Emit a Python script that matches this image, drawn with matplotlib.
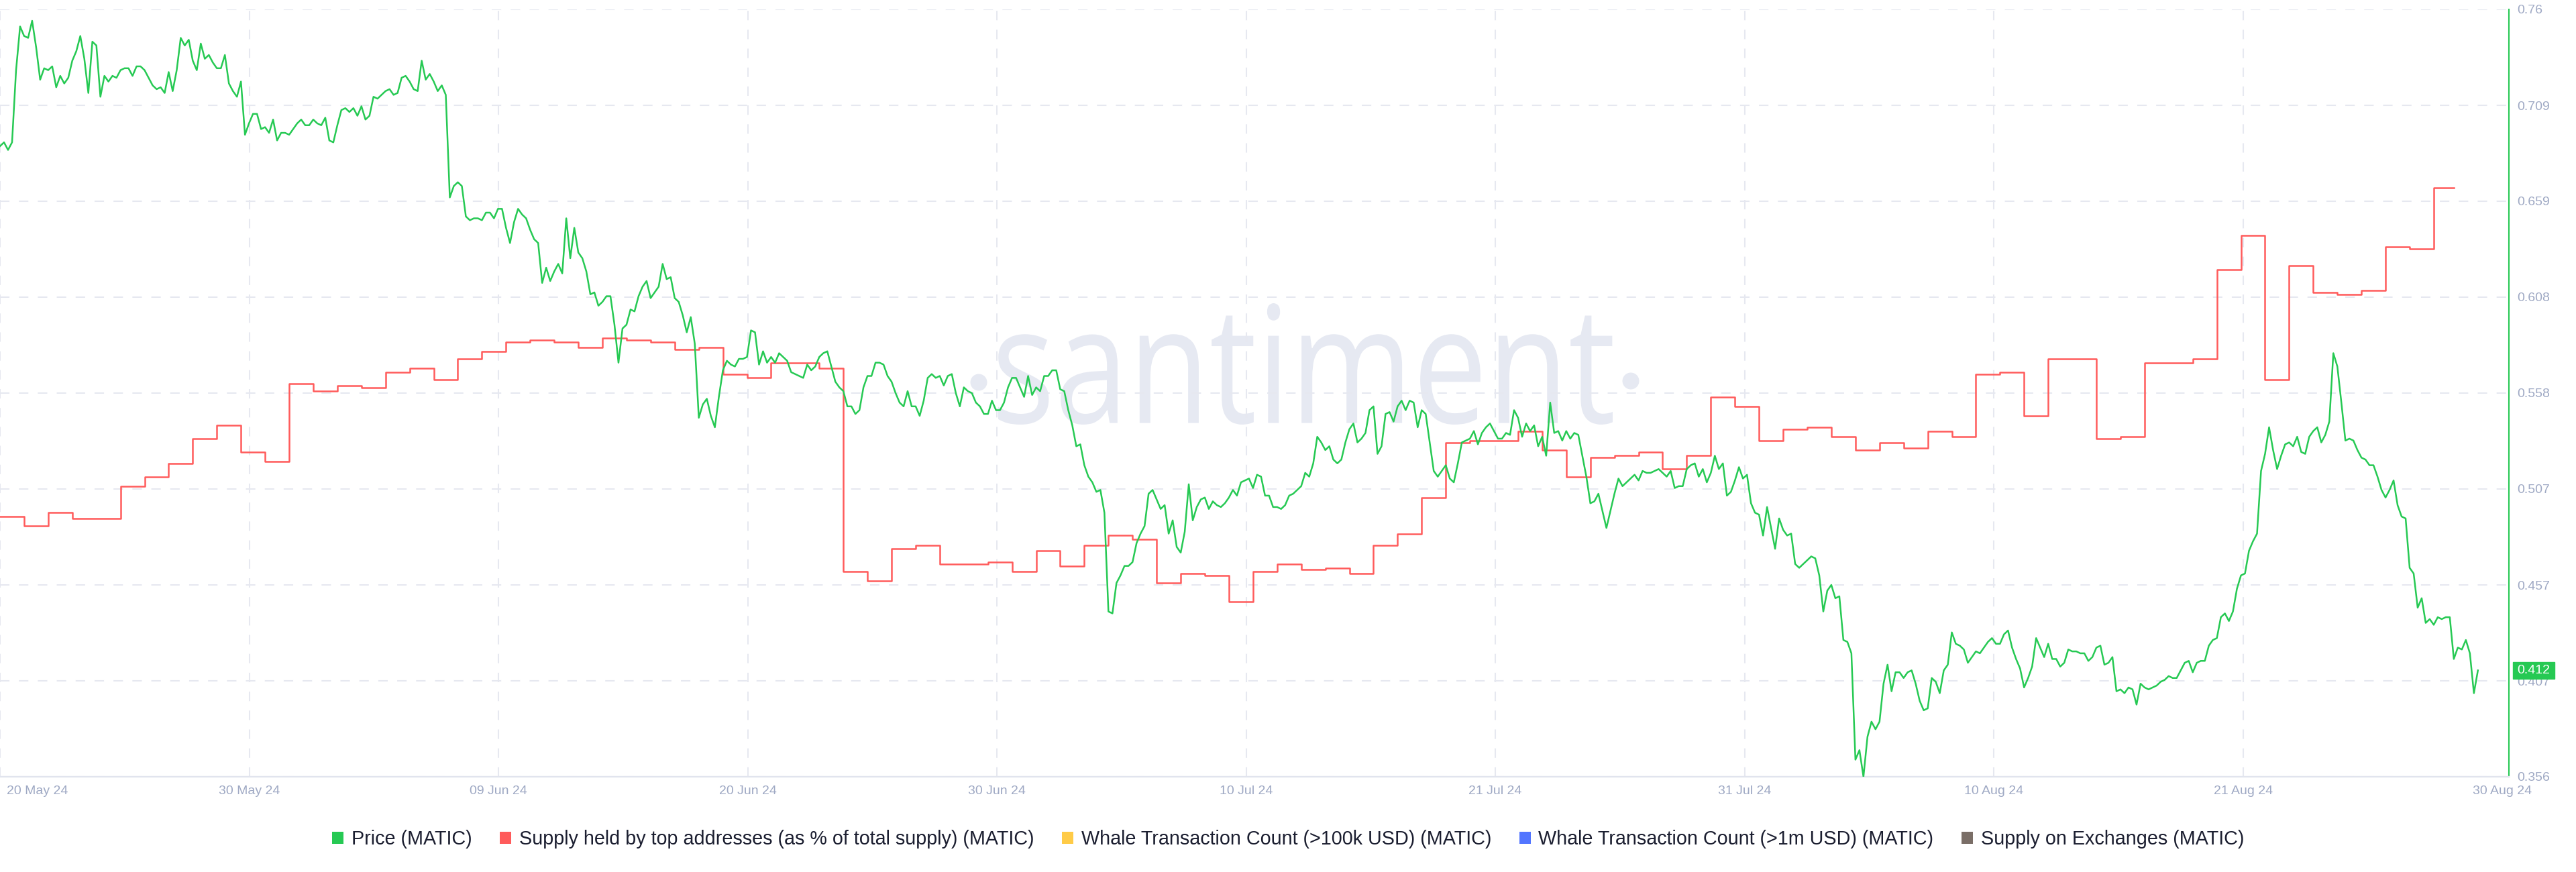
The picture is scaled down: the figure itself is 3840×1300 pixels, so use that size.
import numpy as np
import pandas as pd
import matplotlib
matplotlib.use('Agg')
import matplotlib.pyplot as plt
import matplotlib.dates as mdates
from matplotlib.patches import Patch, Rectangle, PathPatch, Circle
from matplotlib.textpath import TextPath
from matplotlib.font_manager import FontProperties
from matplotlib.transforms import Affine2D, IdentityTransform, ScaledTranslation, blended_transform_factory

# MATIC price, 4h candles starting 20 May 2024
price = [
    0.688, 0.690, 0.686, 0.690, 0.728, 0.751, 0.746, 0.745, 0.754, 0.740,
    0.723, 0.729, 0.728, 0.730, 0.719, 0.725, 0.721, 0.724, 0.733, 0.738,
    0.746, 0.734, 0.716, 0.743, 0.741, 0.714, 0.725, 0.722, 0.725, 0.724,
    0.728, 0.729, 0.729, 0.725, 0.730, 0.730, 0.728, 0.724, 0.720, 0.718,
    0.719, 0.716, 0.727, 0.717, 0.728, 0.745, 0.741, 0.744, 0.733, 0.728,
    0.742, 0.734, 0.736, 0.732, 0.729, 0.729, 0.736, 0.721, 0.717, 0.714,
    0.722, 0.694, 0.700, 0.705, 0.705, 0.697, 0.698, 0.695, 0.702, 0.691,
    0.695, 0.695, 0.694, 0.697, 0.700, 0.702, 0.699, 0.699, 0.702, 0.700,
    0.699, 0.703, 0.691, 0.690, 0.699, 0.707, 0.708, 0.706, 0.708, 0.704,
    0.709, 0.702, 0.704, 0.714, 0.713, 0.715, 0.717, 0.718, 0.715, 0.716,
    0.724, 0.725, 0.722, 0.718, 0.717, 0.733, 0.723, 0.726, 0.722, 0.717,
    0.720, 0.715, 0.661, 0.667, 0.669, 0.667, 0.651, 0.649, 0.650, 0.650,
    0.649, 0.653, 0.653, 0.650, 0.655, 0.655, 0.645, 0.637, 0.648, 0.655,
    0.652, 0.650, 0.644, 0.639, 0.637, 0.616, 0.624, 0.617, 0.622, 0.626,
    0.621, 0.650, 0.629, 0.645, 0.632, 0.629, 0.622, 0.610, 0.611, 0.604,
    0.606, 0.609, 0.609, 0.594, 0.574, 0.592, 0.594, 0.602, 0.601, 0.609,
    0.614, 0.617, 0.608, 0.611, 0.614, 0.626, 0.618, 0.619, 0.608, 0.606,
    0.599, 0.590, 0.598, 0.584, 0.545, 0.552, 0.555, 0.546, 0.540, 0.556,
    0.570, 0.575, 0.573, 0.572, 0.576, 0.576, 0.577, 0.591, 0.590, 0.573,
    0.580, 0.574, 0.577, 0.574, 0.579, 0.577, 0.575, 0.569, 0.568, 0.567,
    0.566, 0.573, 0.570, 0.572, 0.577, 0.579, 0.580, 0.572, 0.564, 0.561,
    0.559, 0.551, 0.551, 0.547, 0.549, 0.561, 0.567, 0.567, 0.574, 0.574,
    0.573, 0.567, 0.564, 0.558, 0.553, 0.551, 0.559, 0.551, 0.551, 0.546,
    0.554, 0.566, 0.568, 0.566, 0.567, 0.562, 0.567, 0.568, 0.558, 0.551,
    0.561, 0.559, 0.558, 0.553, 0.551, 0.547, 0.547, 0.554, 0.549, 0.549,
    0.553, 0.561, 0.566, 0.566, 0.561, 0.556, 0.567, 0.557, 0.561, 0.559,
    0.567, 0.567, 0.570, 0.570, 0.560, 0.559, 0.549, 0.541, 0.530, 0.531,
    0.520, 0.514, 0.511, 0.506, 0.507, 0.495, 0.443, 0.442, 0.458, 0.462,
    0.467, 0.467, 0.469, 0.479, 0.484, 0.488, 0.505, 0.507, 0.502, 0.497,
    0.499, 0.484, 0.491, 0.477, 0.474, 0.485, 0.510, 0.491, 0.498, 0.502,
    0.503, 0.497, 0.501, 0.499, 0.498, 0.500, 0.503, 0.507, 0.504, 0.511,
    0.512, 0.513, 0.508, 0.515, 0.514, 0.504, 0.504, 0.498, 0.498, 0.497,
    0.499, 0.504, 0.505, 0.507, 0.509, 0.516, 0.514, 0.521, 0.535, 0.532,
    0.528, 0.530, 0.523, 0.521, 0.523, 0.532, 0.539, 0.542, 0.532, 0.534,
    0.537, 0.549, 0.551, 0.526, 0.530, 0.547, 0.548, 0.543, 0.551, 0.554,
    0.549, 0.554, 0.553, 0.540, 0.549, 0.547, 0.532, 0.517, 0.514, 0.517,
    0.520, 0.513, 0.511, 0.521, 0.532, 0.533, 0.534, 0.538, 0.531, 0.537,
    0.540, 0.542, 0.538, 0.534, 0.534, 0.537, 0.536, 0.549, 0.545, 0.535,
    0.542, 0.538, 0.541, 0.530, 0.535, 0.525, 0.553, 0.537, 0.538, 0.533,
    0.538, 0.534, 0.537, 0.536, 0.525, 0.514, 0.500, 0.501, 0.505, 0.496,
    0.487, 0.496, 0.505, 0.513, 0.509, 0.511, 0.513, 0.515, 0.512, 0.517,
    0.516, 0.516, 0.517, 0.518, 0.516, 0.514, 0.517, 0.508, 0.509, 0.509,
    0.518, 0.520, 0.521, 0.514, 0.518, 0.511, 0.516, 0.525, 0.518, 0.521,
    0.504, 0.506, 0.512, 0.519, 0.513, 0.515, 0.500, 0.495, 0.494, 0.483,
    0.498, 0.487, 0.476, 0.492, 0.486, 0.483, 0.484, 0.468, 0.466, 0.468,
    0.470, 0.472, 0.471, 0.462, 0.443, 0.454, 0.457, 0.450, 0.451, 0.428,
    0.427, 0.421, 0.365, 0.370, 0.356, 0.377, 0.385, 0.381, 0.385, 0.405,
    0.415, 0.401, 0.411, 0.411, 0.408, 0.411, 0.412, 0.405, 0.396, 0.391,
    0.392, 0.408,
    0.406, 0.400, 0.412, 0.415, 0.432, 0.426, 0.425, 0.423, 0.416, 0.419,
    0.422, 0.421, 0.424, 0.427, 0.429, 0.426, 0.426, 0.431, 0.433, 0.424,
    0.418, 0.413, 0.403, 0.408, 0.414, 0.429, 0.424, 0.419, 0.426, 0.418,
    0.418, 0.414, 0.416, 0.423, 0.422, 0.422, 0.421, 0.421, 0.417, 0.419,
    0.424, 0.425, 0.415, 0.416, 0.419, 0.401, 0.402, 0.400, 0.403, 0.402,
    0.394, 0.405, 0.403, 0.402, 0.403, 0.404, 0.406, 0.407, 0.409, 0.408,
    0.408, 0.412, 0.416, 0.417, 0.411, 0.416, 0.417, 0.417, 0.425, 0.428,
    0.429, 0.440, 0.442, 0.438, 0.443, 0.455, 0.462, 0.463, 0.475, 0.480,
    0.484, 0.517, 0.526, 0.540, 0.528, 0.518, 0.525, 0.531, 0.532, 0.530,
    0.535, 0.527, 0.526, 0.535, 0.538, 0.540, 0.532, 0.536, 0.543, 0.579,
    0.572, 0.553, 0.533, 0.534, 0.533, 0.528, 0.524, 0.523, 0.520, 0.520,
    0.514, 0.507, 0.503, 0.507, 0.512, 0.499, 0.493, 0.492, 0.466, 0.463,
    0.445, 0.450, 0.437, 0.439, 0.436, 0.440, 0.439, 0.440, 0.440, 0.418,
    0.424, 0.423, 0.428, 0.421, 0.400, 0.412,
]

# supply held by top addresses, daily, read against the price scale (own axis is hidden)
top_supply = [
    0.493, 0.488, 0.495, 0.492, 0.492, 0.509, 0.514, 0.521, 0.534, 0.541,
    0.527, 0.522, 0.563, 0.559, 0.562, 0.561, 0.569, 0.571, 0.565, 0.576,
    0.580, 0.585, 0.586, 0.585, 0.582, 0.587, 0.586,
    0.585, 0.581, 0.582, 0.568, 0.566, 0.574, 0.574, 0.571, 0.464, 0.459,
    0.476, 0.478, 0.468, 0.468, 0.469, 0.464, 0.475, 0.467, 0.478, 0.483,
    0.481, 0.458, 0.463, 0.462, 0.448, 0.464, 0.468,
    0.465, 0.466, 0.463, 0.478, 0.484, 0.503, 0.532, 0.533, 0.533, 0.538,
    0.528, 0.514, 0.524, 0.525, 0.527, 0.518, 0.525, 0.556, 0.551, 0.533,
    0.539, 0.540, 0.535, 0.528, 0.532, 0.529, 0.538,
    0.535, 0.568, 0.569, 0.546, 0.576, 0.576, 0.534, 0.535, 0.574, 0.574,
    0.576, 0.623, 0.641, 0.565, 0.625, 0.611, 0.610, 0.612, 0.635, 0.634,
    0.666,
]

x_labels = ['20 May 24', '30 May 24', '09 Jun 24', '20 Jun 24', '30 Jun 24',
            '10 Jul 24', '21 Jul 24', '31 Jul 24', '10 Aug 24', '21 Aug 24', '30 Aug 24']
y_labels = ['0.356', '0.407', '0.457', '0.507', '0.558', '0.608', '0.659', '0.709', '0.76']

legend_labels = ['Price (MATIC)',
                 'Supply held by top addresses (as % of total supply) (MATIC)',
                 'Whale Transaction Count (>100k USD) (MATIC)',
                 'Whale Transaction Count (>1m USD) (MATIC)',
                 'Supply on Exchanges (MATIC)']

GREEN = '#26C953'
RED = '#FF5B5B'
legend_colors = [GREEN, RED, '#FFCB47', '#5275FF', '#7A6E67']
TICK = '#9FA9C4'
GRID = '#E6E8F0'
TEXT = '#1B1E30'
WATERMARK = '#E6E9F2'

plt.rcParams['font.family'] = ['Liberation Sans', 'DejaVu Sans']

fig = plt.figure(figsize=(38.4, 13), dpi=100)
ax = fig.add_axes([0, 142 / 1300, 3740 / 3840, 1144 / 1300])

start = pd.Timestamp('2024-05-20')
price_t = pd.date_range(start, periods=len(price), freq='4h')
top_t = pd.date_range(start, periods=len(top_supply), freq='D')
top_x = list(top_t) + [top_t[-1] + pd.Timedelta(hours=20)]
top_y = top_supply + [top_supply[-1]]

ax.plot(top_x, top_y, color=RED, lw=1.8, drawstyle='steps-post', zorder=3)
ax.plot(price_t, price, color=GREEN, lw=1.8, zorder=4)

ax.set_xlim(start, start + pd.Timedelta(days=104.12))
ax.set_ylim(0.356, 0.76)

tick_pos = [start + pd.Timedelta(days=10.343 * k) for k in range(10)]
tick_pos.append(start + pd.Timedelta(days=103.84))
ax.set_xticks(mdates.date2num(tick_pos))
ax.set_xticklabels(x_labels)
ax.set_yticks(np.linspace(0.356, 0.76, len(y_labels)))
ax.set_yticklabels(y_labels)
ax.yaxis.tick_right()

ax.tick_params(axis='x', length=0, pad=9, labelsize=14, labelcolor=TICK)
ax.tick_params(axis='y', length=0, pad=8.5, labelsize=14, labelcolor=TICK)

ax.grid(True, color=GRID, lw=1.45, linestyle=(0, (7, 7)))
ax.xaxis.get_major_ticks()[-1].gridline.set_visible(False)

for s in ['top', 'left']:
    ax.spines[s].set_visible(False)
ax.spines['bottom'].set_color('#E1E4EE')
ax.spines['bottom'].set_linewidth(1.7)
ax.spines['right'].set_color(GREEN)
ax.spines['right'].set_linewidth(1.5)

first = ax.get_xticklabels()[0]
first.set_ha('left')
first.set_transform(first.get_transform() + ScaledTranslation(0.1, 0, fig.dpi_scale_trans))

# last price badge on the right axis
bt = blended_transform_factory(ax.transAxes, ax.transData)
last = price[-1]
ax.add_patch(Rectangle((1 + 6 / 3740, last - 0.0044), 62 / 3740, 0.0088,
                       transform=bt, color=GREEN, clip_on=False, zorder=6))
ax.text(1 + 37 / 3740, last, f'{last:.3f}', transform=bt, ha='center', va='center',
        color='white', fontsize=14, zorder=7, clip_on=False)

# watermark: word stretched into its box, dots drawn apart (pixel coords)
tp = TextPath((0, 0), 'santiment', size=100, prop=FontProperties(family='Open Sans'))
ext = tp.get_extents()
tr = Affine2D().translate(-ext.x0, -ext.y0).scale(916 / ext.width, 181 / ext.height).translate(1488, 667)
ax.add_patch(PathPatch(tp, transform=tr, facecolor=WATERMARK, edgecolor='none', zorder=1, clip_on=False))
for cx, cy in [(1459, 730), (2431, 732)]:
    ax.add_patch(Circle((cx, cy), 12.5, transform=IdentityTransform(), facecolor=WATERMARK,
                        edgecolor='none', zorder=1, clip_on=False))

handles = [Patch(facecolor=c, edgecolor='none', label=l) for c, l in zip(legend_colors, legend_labels)]
fig.legend(handles=handles, loc='center', bbox_to_anchor=(0.5, 49 / 1300), ncol=5, frameon=False,
           fontsize=20.7, handlelength=0.6, handleheight=0.62, handletextpad=0.4,
           columnspacing=1.45, labelcolor=TEXT)

fig.savefig('out.png', dpi=100)
